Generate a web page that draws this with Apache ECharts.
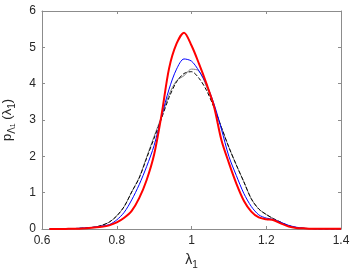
<!DOCTYPE html>
<html><head><meta charset="utf-8">
<script src="https://cdn.jsdelivr.net/npm/echarts@6/dist/echarts.min.js"></script>
<style>html,body{margin:0;padding:0;background:#fff}#c{width:354px;height:269px}</style>
</head><body><div id="c"></div>
<script>
const xs = [0.62,0.64,0.66,0.68,0.70,0.72,0.74,0.76,0.78,0.80,0.82,0.84,0.86,0.88,0.90,0.92,0.94,0.96,0.98,1.00,1.02,1.04,1.06,1.08,1.10,1.12,1.14,1.16,1.18,1.20,1.22,1.24,1.26,1.28,1.30,1.32,1.34,1.36,1.38,1.40];
const redVals   = [0.00,0.00,0.00,0.01,0.01,0.02,0.04,0.06,0.10,0.18,0.31,0.50,0.85,1.35,2.05,3.15,4.42,5.10,5.40,5.05,4.55,4.00,3.38,2.45,1.82,1.25,0.78,0.48,0.32,0.27,0.24,0.15,0.07,0.03,0.02,0.01,0.01,0.01,0.01,0.01];
const blueVals  = [0.00,0.00,0.01,0.01,0.02,0.03,0.05,0.08,0.12,0.25,0.46,0.80,1.22,1.72,2.30,3.10,3.85,4.40,4.68,4.62,4.35,3.98,3.45,2.75,2.00,1.47,0.98,0.62,0.39,0.30,0.26,0.18,0.10,0.05,0.02,0.01,0.00,0.00,0.00,0.00];
const grayVals  = [0.00,0.00,0.01,0.01,0.02,0.03,0.05,0.10,0.19,0.36,0.62,1.02,1.42,1.98,2.55,3.10,3.70,4.08,4.22,4.40,4.35,3.92,3.38,2.80,2.25,1.76,1.30,0.83,0.55,0.40,0.28,0.18,0.09,0.04,0.02,0.01,0.00,0.00,0.00,0.00];
const blackVals = [0.00,0.00,0.01,0.01,0.02,0.03,0.05,0.10,0.19,0.36,0.62,1.02,1.40,1.95,2.50,3.05,3.62,4.05,4.28,4.33,4.15,3.82,3.35,2.80,2.25,1.76,1.30,0.83,0.55,0.40,0.28,0.18,0.09,0.04,0.02,0.01,0.00,0.00,0.00,0.00];
const xTicks = [0.6,0.8,1,1.2,1.4];
const yTicks = [0,1,2,3,4,5,6];

const pair = v => xs.map((x,i)=>[x,v[i]]);
const axisCol = '#8c8c8c', txtCol = '#262626', F = 'Liberation Sans, Arial, sans-serif';
const chart = echarts.init(document.getElementById('c'), null, {renderer:'canvas'});
const baseAxis = {
  axisLine:{show:true,onZero:false,lineStyle:{color:axisCol,width:1}},
  axisTick:{show:true,inside:true,length:3,lineStyle:{color:axisCol}},
  splitLine:{show:false}
};
chart.setOption({
  animation:false,
  grid:{left:42,right:13,top:11,bottom:40,containLabel:false,outerBoundsMode:'none'},
  xAxis:[
    Object.assign({type:'value',min:xTicks[0],max:xTicks[xTicks.length-1],interval:0.2,position:'bottom',
      axisLabel:{color:txtCol,fontSize:12,fontFamily:F,margin:6},
      name:'{l|λ}{s|1}',nameLocation:'middle',nameGap:21,
      nameTextStyle:{rich:{l:{fontSize:14,color:txtCol,fontFamily:F,lineHeight:20,verticalAlign:'middle'},s:{fontSize:10,color:txtCol,fontFamily:F,lineHeight:20,verticalAlign:'bottom'}}}
    },baseAxis),
    Object.assign({type:'value',min:xTicks[0],max:xTicks[xTicks.length-1],interval:0.2,position:'top',axisLabel:{show:false}},baseAxis)
  ],
  yAxis:[
    Object.assign({type:'value',min:yTicks[0],max:yTicks[yTicks.length-1],interval:1,position:'left',
      axisLabel:{color:txtCol,fontSize:12,fontFamily:F,margin:6},
      name:'{p|p}{s|Λ}{ss|1}{p| (λ}{s|1}{p|)}',nameLocation:'middle',nameGap:25,nameRotate:90,
      nameTextStyle:{rich:{
        p:{fontSize:13,color:txtCol,fontFamily:F,lineHeight:20,verticalAlign:'middle'},
        s:{fontSize:10,color:txtCol,fontFamily:F,lineHeight:20,verticalAlign:'bottom'},
        ss:{fontSize:7,color:txtCol,fontFamily:F,lineHeight:20,verticalAlign:'bottom'}}}
    },baseAxis),
    Object.assign({type:'value',min:yTicks[0],max:yTicks[yTicks.length-1],interval:1,position:'right',axisLabel:{show:false}},baseAxis)
  ],
  series:[
    {type:'line',data:pair(blackVals),showSymbol:false,smooth:0.3,lineStyle:{color:'#000',width:1,type:[4,2]},z:3},
    {type:'line',data:pair(grayVals),showSymbol:false,smooth:0.3,lineStyle:{color:'#7f7f7f',width:1},z:2},
    {type:'line',data:pair(blueVals),showSymbol:false,smooth:0.3,lineStyle:{color:'#0000ff',width:1},z:4},
    {type:'line',data:pair(redVals),showSymbol:false,smooth:0.3,lineStyle:{color:'#ff0000',width:2},z:5}
  ]
});
</script></body></html>
